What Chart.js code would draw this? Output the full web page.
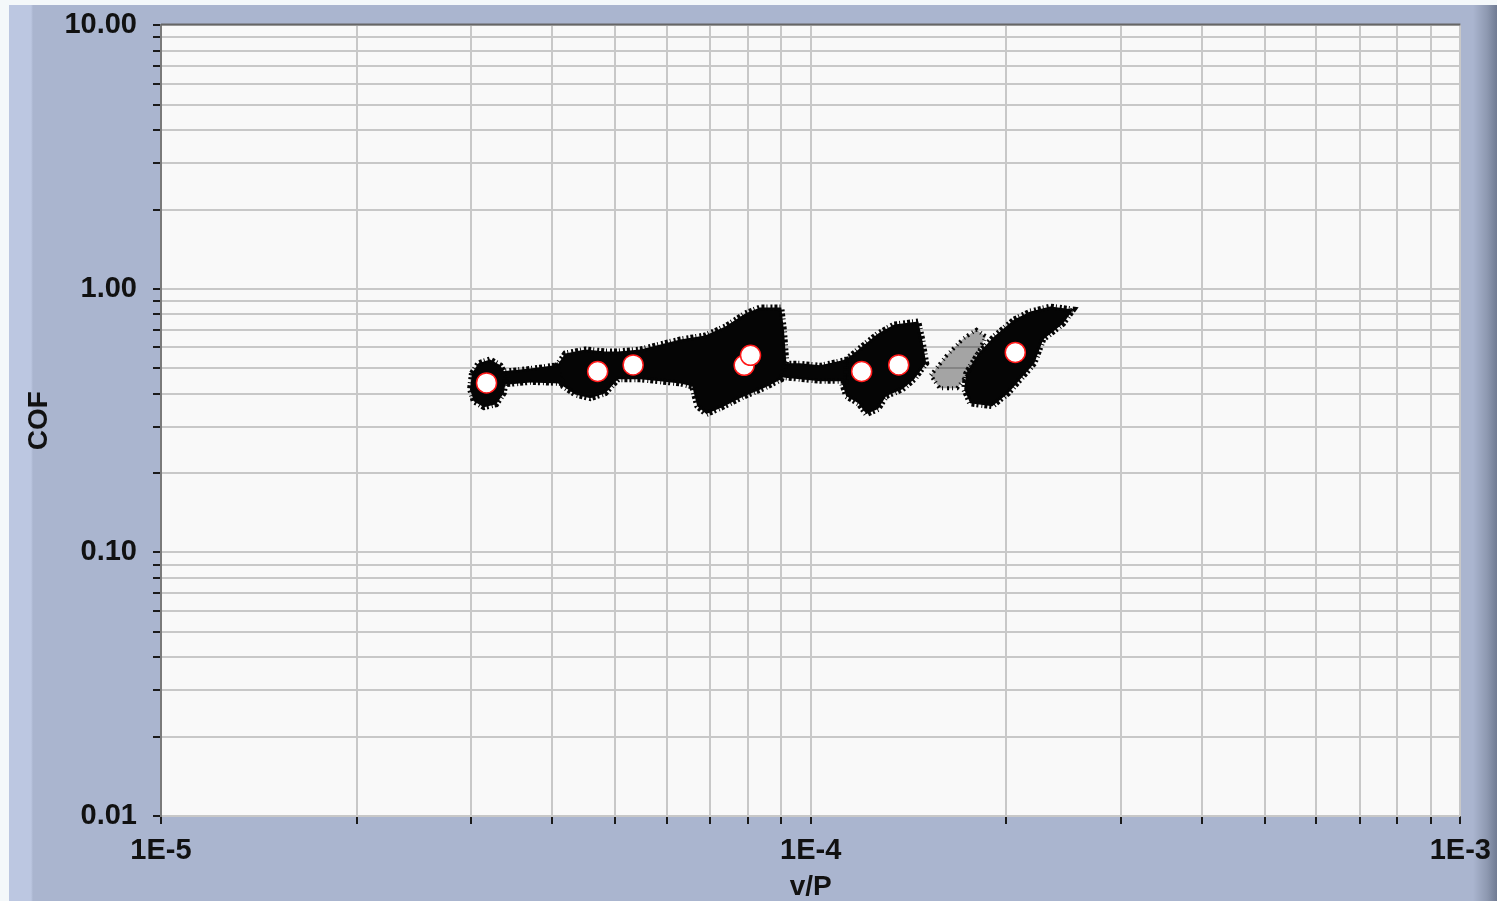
<!DOCTYPE html>
<html>
<head>
<meta charset="utf-8">
<title>COF vs v/P</title>
<script src="https://cdn.jsdelivr.net/npm/chart.js@4.4.1/dist/chart.umd.min.js"></script>
<style>
  body { margin: 0; background: #f4f8fa; overflow: hidden; }
  #frame {
    position: absolute; left: 9px; top: 5px; width: 1488px; height: 896px;
    background: linear-gradient(to right, #bcc7e1 0px, #bcc7e1 22px, #aab5cf 24px, #aab5cf 1464px, #8e99b1 1478px, #707b93 1488px);
  }
  /* canvas is a bit larger than the window so the plot area lands where the original one is */
  #chart { position: absolute; left: 0; top: -8px; }
</style>
</head>
<body>
<div id="frame"></div>
<canvas id="chart" width="1501" height="909"></canvas>
<script>
// Axis ticks: log decades with the 2..9 subdivisions
const vpTicks = [1e-5, 2e-5, 3e-5, 4e-5, 5e-5, 6e-5, 7e-5, 8e-5, 9e-5,
                 1e-4, 2e-4, 3e-4, 4e-4, 5e-4, 6e-4, 7e-4, 8e-4, 9e-4, 1e-3];
const vpLabelValues = [1e-5, 1e-4, 1e-3];
const vpLabels = ['1E-5', '1E-4', '1E-3'];

const cofTicks = [0.01, 0.02, 0.03, 0.04, 0.05, 0.06, 0.07, 0.08, 0.09,
                  0.1, 0.2, 0.3, 0.4, 0.5, 0.6, 0.7, 0.8, 0.9,
                  1, 2, 3, 4, 5, 6, 7, 8, 9, 10];
const cofLabelValues = [0.01, 0.1, 1, 10];
const cofLabels = ['0.01', '0.10', '1.00', '10.00'];

// Mean values (white markers)
const markerVP  = [3.17e-5, 4.70e-5, 5.33e-5, 7.90e-5, 8.08e-5, 1.198e-4, 1.366e-4, 2.065e-4];
const markerCOF = [0.440, 0.486, 0.515, 0.513, 0.560, 0.486, 0.515, 0.574];

// Raw data clouds, outlined as [v/P, COF] pairs
const cloud1 = [[3.01e-5, 0.478], [3.08e-5, 0.522], [3.21e-5, 0.540], [3.33e-5, 0.513], [3.40e-5, 0.466],
                [3.37e-5, 0.402], [3.28e-5, 0.365], [3.14e-5, 0.356], [3.03e-5, 0.375], [2.99e-5, 0.416]];
const tail1 = [[3.33e-5, 0.486], [3.70e-5, 0.499], [4.12e-5, 0.517], [4.12e-5, 0.438], [3.70e-5, 0.442], [3.33e-5, 0.431]];
const cloud2 = [[4.06e-5, 0.508], [4.19e-5, 0.569], [4.50e-5, 0.589], [4.83e-5, 0.579], [5.05e-5, 0.579],
                [5.47e-5, 0.589], [5.87e-5, 0.616], [6.30e-5, 0.643], [6.88e-5, 0.666], [7.39e-5, 0.720],
                [7.93e-5, 0.807], [8.36e-5, 0.850], [9.01e-5, 0.850], [9.10e-5, 0.689], [9.17e-5, 0.531],
                [9.01e-5, 0.454], [8.51e-5, 0.423], [7.84e-5, 0.388], [7.31e-5, 0.356], [6.91e-5, 0.335],
                [6.69e-5, 0.359], [6.57e-5, 0.427], [6.30e-5, 0.438], [5.87e-5, 0.446], [5.47e-5, 0.454],
                [5.05e-5, 0.454], [4.83e-5, 0.402], [4.58e-5, 0.385], [4.34e-5, 0.398], [4.16e-5, 0.427]];
const tail2 = [[8.98e-5, 0.522], [9.63e-5, 0.522], [1.034e-4, 0.513], [1.134e-4, 0.540],
               [1.134e-4, 0.446], [1.034e-4, 0.446], [9.63e-5, 0.454], [8.98e-5, 0.462]];
const cloud3 = [[1.345e-4, 0.733], [1.464e-4, 0.752], [1.485e-4, 0.643], [1.506e-4, 0.522], [1.443e-4, 0.454],
                [1.384e-4, 0.416], [1.307e-4, 0.392], [1.270e-4, 0.350], [1.218e-4, 0.335], [1.184e-4, 0.368],
                [1.134e-4, 0.392], [1.118e-4, 0.438], [1.134e-4, 0.540], [1.200e-4, 0.605], [1.270e-4, 0.678]];
const streak = [[1.530e-4, 0.470], [1.620e-4, 0.560], [1.720e-4, 0.650], [1.800e-4, 0.700], [1.860e-4, 0.660],
                [1.800e-4, 0.560], [1.740e-4, 0.470], [1.680e-4, 0.420], [1.580e-4, 0.420]];
const cloud4 = [[2.057e-4, 0.766], [2.178e-4, 0.821], [2.338e-4, 0.857], [2.536e-4, 0.835], [2.447e-4, 0.739],
                [2.280e-4, 0.643], [2.209e-4, 0.522], [2.102e-4, 0.454], [2.014e-4, 0.402], [1.903e-4, 0.359],
                [1.760e-4, 0.368], [1.723e-4, 0.416], [1.735e-4, 0.478], [1.811e-4, 0.569], [1.916e-4, 0.660]];

const tickFont = { family: '"Liberation Sans", Arial, sans-serif', size: 29, weight: 'bold' };

// Turn an outline into a closed filled shape with a speckled edge
function cloudDataset(points, fillColor, edgeWidth, edgeDash) {
    const data = points.concat([points[0]]).map(([x, y]) => ({ x, y }));
    return {
        type: 'line',
        data: data,
        fill: 'shape',
        backgroundColor: fillColor,
        borderColor: '#050505',
        borderWidth: edgeWidth,
        borderDash: edgeDash,
        borderCapStyle: 'butt',
        pointRadius: 0,
        order: 1
    };
}

// Plot background and the dark top edge
const plotFrame = {
    id: 'plotFrame',
    beforeDraw(chart) {
        const { ctx, chartArea: a } = chart;
        ctx.save();
        ctx.fillStyle = '#f9f9f9';
        ctx.fillRect(a.left, a.top, a.right - a.left, a.bottom - a.top);
        ctx.restore();
    },
    afterDraw(chart) {
        const { ctx, chartArea: a } = chart;
        ctx.save();
        ctx.strokeStyle = '#666';
        ctx.lineWidth = 2;
        ctx.beginPath();
        ctx.moveTo(a.left, a.top - 1);
        ctx.lineTo(a.right, a.top - 1);
        ctx.stroke();
        ctx.restore();
    }
};

const solidEdge = [3, 2, 1, 3, 2, 2];
const ctx = document.getElementById('chart').getContext('2d');
new Chart(ctx, {
    type: 'scatter',
    data: {
        datasets: [
            {
                data: markerVP.map((x, i) => ({ x, y: markerCOF[i] })),
                pointRadius: 10,
                backgroundColor: '#ffffff',
                borderColor: '#ff1a1a',
                borderWidth: 1.5,
                order: 0
            },
            cloudDataset(cloud1, '#050505', 6, solidEdge),
            cloudDataset(tail1, '#050505', 5, solidEdge),
            cloudDataset(cloud2, '#050505', 6, solidEdge),
            cloudDataset(tail2, '#050505', 5, solidEdge),
            cloudDataset(cloud3, '#050505', 6, solidEdge),
            cloudDataset(streak, 'rgba(5,5,5,0.35)', 4, [1, 3, 2, 4]),
            cloudDataset(cloud4, '#050505', 6, solidEdge)
        ]
    },
    options: {
        responsive: false,
        animation: false,
        layout: { padding: { left: 0, top: 15, right: 0, bottom: 0 } },
        plugins: {
            legend: { display: false },
            tooltip: { enabled: false }
        },
        scales: {
            x: {
                type: 'logarithmic',
                position: 'bottom',
                min: 1e-5,
                max: 1e-3,
                afterBuildTicks: (scale) => { scale.ticks = vpTicks.map(v => ({ value: v })); },
                afterFit: (scale) => { scale.height = 85; },
                grid: { color: '#c8c8c8', lineWidth: 2, tickColor: '#1a1a1a', tickWidth: 2, tickLength: 8 },
                border: { display: false },
                ticks: {
                    autoSkip: false,
                    maxRotation: 0,
                    padding: 10,
                    color: '#111',
                    font: tickFont,
                    callback: (value) => {
                        const i = vpLabelValues.indexOf(value);
                        return i >= 0 ? vpLabels[i] : '';
                    }
                },
                title: {
                    display: true,
                    text: 'v/P',
                    color: '#111',
                    font: { family: tickFont.family, size: 28, weight: 'bold', lineHeight: 1 },
                    padding: { top: 0, bottom: 0 }
                }
            },
            y: {
                type: 'logarithmic',
                min: 0.01,
                max: 10,
                afterBuildTicks: (scale) => { scale.ticks = cofTicks.map(v => ({ value: v })); },
                afterFit: (scale) => { scale.width = 161; },
                grid: { color: '#c8c8c8', lineWidth: 2, tickColor: '#1a1a1a', tickWidth: 2, tickLength: 8 },
                border: { display: true, color: '#7a7a7a', width: 2 },
                ticks: {
                    autoSkip: false,
                    padding: 16,
                    color: '#111',
                    font: tickFont,
                    callback: (value) => {
                        const i = cofLabelValues.indexOf(value);
                        return i >= 0 ? cofLabels[i] : '';
                    }
                },
                title: {
                    display: true,
                    text: 'COF',
                    color: '#111',
                    font: { family: tickFont.family, size: 28, weight: 'bold', lineHeight: 1 },
                    padding: { top: 25, bottom: 0 }
                }
            }
        }
    },
    plugins: [plotFrame]
});
</script>
</body>
</html>
